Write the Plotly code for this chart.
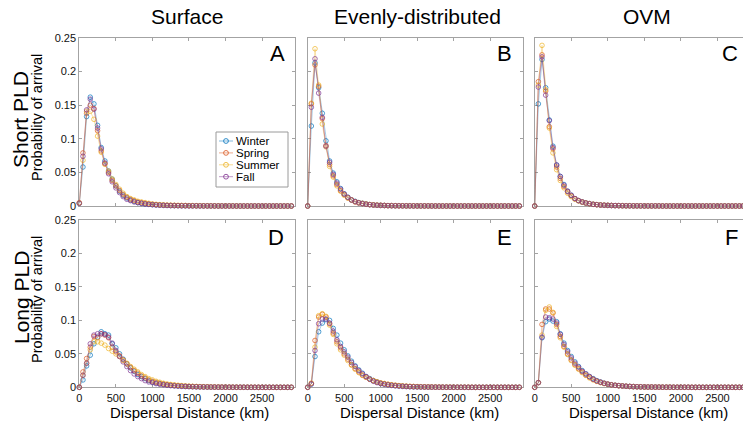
import plotly.graph_objects as go

# ---------------- data ----------------
DIST = list(range(0, 2950, 50))  # dispersal distance bins (km)
SEASONS = ["Winter", "Spring", "Summer", "Fall"]
COL_TITLES = ["Surface", "Evenly-distributed", "OVM"]
ROW_TITLES = ["Short PLD", "Long PLD"]
PANEL_LETTERS = ["A", "B", "C", "D", "E", "F"]
X_TICKS = [0, 500, 1000, 1500, 2000, 2500]
Y_TICKS = [0, 0.05, 0.1, 0.15, 0.2, 0.25]
Y_TICKTEXT = ["0", "0.05", "0.1", "0.15", "0.2", "0.25"]

# A: Surface, short PLD
A_WINTER = [0.004, 0.058, 0.133, 0.162, 0.152, 0.120, 0.087, 0.067, 0.052, 0.040,
            0.030, 0.022, 0.016, 0.012, 0.009, 0.007, 0.005, 0.004, 0.003, 0.0025,
            0.002, 0.0016, 0.0013, 0.001, 0.0008, 0.0007, 0.0006, 0.0005, 0.0004, 0.0004,
            0.0003, 0.0003, 0.0003, 0.0002, 0.0002, 0.0002, 0.0001, 0.0001, 0.0001, 0.0001,
            0.0001, 0.0001, 0.0001, 0, 0, 0, 0, 0, 0, 0,
            0, 0, 0, 0, 0, 0, 0, 0, 0]
A_SPRING = [0.005, 0.079, 0.138, 0.150, 0.145, 0.112, 0.082, 0.063, 0.050, 0.038,
            0.030, 0.023, 0.017, 0.013, 0.010, 0.008, 0.006, 0.005, 0.004, 0.003,
            0.0025, 0.002, 0.0016, 0.0013, 0.001, 0.0009, 0.0008, 0.0007, 0.0006, 0.0005,
            0.0004, 0.0004, 0.0003, 0.0003, 0.0002, 0.0002, 0.0002, 0.0001, 0.0001, 0.0001,
            0.0001, 0.0001, 0.0001, 0, 0, 0, 0, 0, 0, 0,
            0, 0, 0, 0, 0, 0, 0, 0, 0]
A_SUMMER = [0.004, 0.068, 0.141, 0.141, 0.129, 0.104, 0.080, 0.062, 0.052, 0.040,
            0.032, 0.025, 0.019, 0.014, 0.011, 0.009, 0.007, 0.006, 0.005, 0.004,
            0.003, 0.0025, 0.002, 0.0017, 0.0014, 0.0012, 0.001, 0.0009, 0.0008, 0.0007,
            0.0006, 0.0005, 0.0004, 0.0004, 0.0003, 0.0003, 0.0002, 0.0002, 0.0002, 0.0001,
            0.0001, 0.0001, 0.0001, 0.0001, 0, 0, 0, 0, 0, 0,
            0, 0, 0, 0, 0, 0, 0, 0, 0]
A_FALL = [0.004, 0.074, 0.143, 0.159, 0.144, 0.116, 0.085, 0.064, 0.048, 0.036,
          0.027, 0.020, 0.014, 0.010, 0.008, 0.006, 0.005, 0.004, 0.003, 0.0025,
          0.002, 0.0015, 0.0012, 0.001, 0.0008, 0.0006, 0.0005, 0.0004, 0.0003, 0.0003,
          0.0002, 0.0002, 0.0002, 0.0001, 0.0001, 0.0001, 0.0001, 0.0001, 0, 0,
          0, 0, 0, 0, 0, 0, 0, 0, 0, 0,
          0, 0, 0, 0, 0, 0, 0, 0, 0]

# B: Evenly-distributed, short PLD
B_WINTER = [0, 0.119, 0.213, 0.176, 0.138, 0.097, 0.067, 0.049, 0.036, 0.026,
            0.018, 0.013, 0.009, 0.007, 0.005, 0.004, 0.003, 0.002, 0.0015, 0.0012,
            0.001, 0.0008, 0.0006, 0.0005, 0.0004, 0.0003, 0.0003, 0.0002, 0.0002, 0.0002,
            0.0001, 0.0001, 0.0001, 0.0001, 0.0001, 0, 0, 0, 0, 0,
            0, 0, 0, 0, 0, 0, 0, 0, 0, 0,
            0, 0, 0, 0, 0, 0, 0, 0, 0]
B_SPRING = [0, 0.152, 0.210, 0.178, 0.130, 0.090, 0.062, 0.045, 0.032, 0.023,
            0.017, 0.012, 0.009, 0.006, 0.0045, 0.0035, 0.0027, 0.002, 0.0015, 0.0012,
            0.001, 0.0008, 0.0006, 0.0005, 0.0004, 0.0003, 0.0003, 0.0002, 0.0002, 0.0002,
            0.0001, 0.0001, 0.0001, 0.0001, 0.0001, 0, 0, 0, 0, 0,
            0, 0, 0, 0, 0, 0, 0, 0, 0, 0,
            0, 0, 0, 0, 0, 0, 0, 0, 0]
B_SUMMER = [0, 0.153, 0.234, 0.180, 0.122, 0.088, 0.059, 0.043, 0.030, 0.022,
            0.016, 0.012, 0.009, 0.0065, 0.005, 0.004, 0.003, 0.0022, 0.0017, 0.0013,
            0.001, 0.0008, 0.0006, 0.0005, 0.0004, 0.0003, 0.0003, 0.0002, 0.0002, 0.0002,
            0.0001, 0.0001, 0.0001, 0.0001, 0.0001, 0, 0, 0, 0, 0,
            0, 0, 0, 0, 0, 0, 0, 0, 0, 0,
            0, 0, 0, 0, 0, 0, 0, 0, 0]
B_FALL = [0, 0.147, 0.219, 0.168, 0.132, 0.089, 0.065, 0.047, 0.034, 0.025,
          0.018, 0.013, 0.009, 0.0065, 0.0048, 0.0036, 0.0027, 0.002, 0.0015, 0.0011,
          0.0009, 0.0007, 0.0005, 0.0004, 0.0003, 0.0003, 0.0002, 0.0002, 0.0002, 0.0001,
          0.0001, 0.0001, 0.0001, 0.0001, 0, 0, 0, 0, 0, 0,
          0, 0, 0, 0, 0, 0, 0, 0, 0, 0,
          0, 0, 0, 0, 0, 0, 0, 0, 0]

# C: OVM, short PLD
C_WINTER = [0, 0.152, 0.218, 0.176, 0.128, 0.089, 0.061, 0.044, 0.032, 0.022,
            0.016, 0.011, 0.008, 0.006, 0.0045, 0.0035, 0.0025, 0.002, 0.0015, 0.0012,
            0.001, 0.0008, 0.0006, 0.0005, 0.0004, 0.0003, 0.0003, 0.0002, 0.0002, 0.0002,
            0.0001, 0.0001, 0.0001, 0.0001, 0.0001, 0, 0, 0, 0, 0,
            0, 0, 0, 0, 0, 0, 0, 0, 0, 0,
            0, 0, 0, 0, 0, 0, 0, 0, 0]
C_SPRING = [0, 0.185, 0.225, 0.171, 0.118, 0.085, 0.058, 0.041, 0.029, 0.021,
            0.015, 0.011, 0.008, 0.006, 0.0045, 0.0034, 0.0025, 0.002, 0.0015, 0.0012,
            0.001, 0.0008, 0.0006, 0.0005, 0.0004, 0.0003, 0.0003, 0.0002, 0.0002, 0.0002,
            0.0001, 0.0001, 0.0001, 0.0001, 0.0001, 0, 0, 0, 0, 0,
            0, 0, 0, 0, 0, 0, 0, 0, 0, 0,
            0, 0, 0, 0, 0, 0, 0, 0, 0]
C_SUMMER = [0, 0.180, 0.239, 0.173, 0.116, 0.079, 0.054, 0.038, 0.027, 0.019,
            0.014, 0.010, 0.0075, 0.0057, 0.0044, 0.0034, 0.0026, 0.002, 0.0015, 0.0012,
            0.001, 0.0008, 0.0006, 0.0005, 0.0004, 0.0003, 0.0003, 0.0002, 0.0002, 0.0002,
            0.0001, 0.0001, 0.0001, 0.0001, 0.0001, 0, 0, 0, 0, 0,
            0, 0, 0, 0, 0, 0, 0, 0, 0, 0,
            0, 0, 0, 0, 0, 0, 0, 0, 0]
C_FALL = [0, 0.177, 0.222, 0.165, 0.127, 0.087, 0.061, 0.044, 0.031, 0.022,
          0.016, 0.011, 0.008, 0.006, 0.0045, 0.0034, 0.0025, 0.0019, 0.0014, 0.0011,
          0.0009, 0.0007, 0.0006, 0.0005, 0.0004, 0.0003, 0.0003, 0.0002, 0.0002, 0.0002,
          0.0001, 0.0001, 0.0001, 0.0001, 0.0001, 0, 0, 0, 0, 0,
          0, 0, 0, 0, 0, 0, 0, 0, 0, 0,
          0, 0, 0, 0, 0, 0, 0, 0, 0]

# D: Surface, long PLD
D_WINTER = [0, 0.011, 0.032, 0.048, 0.065, 0.075, 0.083, 0.080, 0.078, 0.065,
            0.059, 0.050, 0.042, 0.035, 0.029, 0.024, 0.019, 0.016, 0.013, 0.010,
            0.008, 0.0065, 0.0055, 0.0045, 0.0037, 0.003, 0.0025, 0.002, 0.0017, 0.0014,
            0.0012, 0.001, 0.0008, 0.0007, 0.0006, 0.0005, 0.0004, 0.0003, 0.0003, 0.0002,
            0.0002, 0.0002, 0.0001, 0.0001, 0.0001, 0.0001, 0.0001, 0, 0, 0,
            0, 0, 0, 0, 0, 0, 0, 0, 0]
D_SPRING = [0, 0.023, 0.043, 0.060, 0.076, 0.074, 0.080, 0.078, 0.074, 0.060,
            0.053, 0.047, 0.041, 0.035, 0.030, 0.025, 0.021, 0.017, 0.014, 0.011,
            0.009, 0.0075, 0.006, 0.005, 0.004, 0.0035, 0.003, 0.0025, 0.002, 0.0017,
            0.0014, 0.0012, 0.001, 0.0008, 0.0007, 0.0006, 0.0005, 0.0004, 0.0003, 0.0003,
            0.0002, 0.0002, 0.0002, 0.0001, 0.0001, 0.0001, 0.0001, 0.0001, 0, 0,
            0, 0, 0, 0, 0, 0, 0, 0, 0]
D_SUMMER = [0, 0.018, 0.036, 0.056, 0.068, 0.068, 0.066, 0.063, 0.058, 0.054,
            0.050, 0.046, 0.040, 0.036, 0.031, 0.027, 0.023, 0.019, 0.016, 0.013,
            0.011, 0.009, 0.0075, 0.006, 0.005, 0.0042, 0.0035, 0.003, 0.0025, 0.002,
            0.0017, 0.0014, 0.0012, 0.001, 0.0008, 0.0007, 0.0006, 0.0005, 0.0004, 0.0003,
            0.0003, 0.0002, 0.0002, 0.0002, 0.0001, 0.0001, 0.0001, 0.0001, 0.0001, 0,
            0, 0, 0, 0, 0, 0, 0, 0, 0]
D_FALL = [0, 0.018, 0.036, 0.065, 0.078, 0.080, 0.080, 0.079, 0.075, 0.066,
          0.055, 0.046, 0.038, 0.031, 0.025, 0.020, 0.016, 0.013, 0.010, 0.008,
          0.007, 0.0055, 0.0045, 0.0038, 0.003, 0.0025, 0.002, 0.0017, 0.0014, 0.0012,
          0.001, 0.0008, 0.0007, 0.0006, 0.0005, 0.0004, 0.0003, 0.0003, 0.0002, 0.0002,
          0.0002, 0.0001, 0.0001, 0.0001, 0.0001, 0.0001, 0, 0, 0, 0,
          0, 0, 0, 0, 0, 0, 0, 0, 0]

# E: Evenly-distributed, long PLD
E_WINTER = [0, 0.005, 0.046, 0.083, 0.096, 0.101, 0.100, 0.088, 0.078, 0.066,
            0.056, 0.047, 0.039, 0.032, 0.026, 0.021, 0.016, 0.013, 0.010, 0.008,
            0.006, 0.005, 0.004, 0.0032, 0.0025, 0.002, 0.0016, 0.0013, 0.001, 0.0008,
            0.0007, 0.0006, 0.0005, 0.0004, 0.0003, 0.0003, 0.0002, 0.0002, 0.0002, 0.0001,
            0.0001, 0.0001, 0.0001, 0.0001, 0, 0, 0, 0, 0, 0,
            0, 0, 0, 0, 0, 0, 0, 0, 0]
E_SPRING = [0, 0.006, 0.070, 0.105, 0.109, 0.105, 0.095, 0.081, 0.068, 0.059,
            0.050, 0.042, 0.034, 0.028, 0.023, 0.018, 0.015, 0.012, 0.010, 0.008,
            0.0065, 0.0055, 0.0045, 0.0037, 0.003, 0.0025, 0.002, 0.0016, 0.0013, 0.0011,
            0.0009, 0.0007, 0.0006, 0.0005, 0.0004, 0.0003, 0.0003, 0.0002, 0.0002, 0.0002,
            0.0001, 0.0001, 0.0001, 0.0001, 0.0001, 0, 0, 0, 0, 0,
            0, 0, 0, 0, 0, 0, 0, 0, 0]
E_SUMMER = [0, 0.006, 0.060, 0.107, 0.110, 0.106, 0.093, 0.079, 0.065, 0.056,
            0.048, 0.040, 0.033, 0.027, 0.022, 0.018, 0.015, 0.012, 0.010, 0.008,
            0.0065, 0.0055, 0.0045, 0.0037, 0.003, 0.0025, 0.002, 0.0017, 0.0014, 0.0012,
            0.001, 0.0008, 0.0007, 0.0006, 0.0005, 0.0004, 0.0003, 0.0003, 0.0002, 0.0002,
            0.0002, 0.0001, 0.0001, 0.0001, 0.0001, 0.0001, 0, 0, 0, 0,
            0, 0, 0, 0, 0, 0, 0, 0, 0]
E_FALL = [0, 0.005, 0.055, 0.095, 0.102, 0.102, 0.096, 0.084, 0.071, 0.061,
          0.053, 0.045, 0.037, 0.031, 0.025, 0.020, 0.016, 0.012, 0.009, 0.007,
          0.0055, 0.0045, 0.0035, 0.0028, 0.0022, 0.0018, 0.0014, 0.0011, 0.0009, 0.0007,
          0.0006, 0.0005, 0.0004, 0.0003, 0.0003, 0.0002, 0.0002, 0.0002, 0.0001, 0.0001,
          0.0001, 0.0001, 0, 0, 0, 0, 0, 0, 0, 0,
          0, 0, 0, 0, 0, 0, 0, 0, 0]

# F: OVM, long PLD
F_WINTER = [0, 0.007, 0.074, 0.098, 0.102, 0.099, 0.098, 0.080, 0.066, 0.055,
            0.046, 0.038, 0.031, 0.025, 0.020, 0.016, 0.013, 0.010, 0.008, 0.006,
            0.0048, 0.0038, 0.003, 0.0024, 0.002, 0.0016, 0.0013, 0.001, 0.0008, 0.0007,
            0.0005, 0.0004, 0.0004, 0.0003, 0.0003, 0.0002, 0.0002, 0.0002, 0.0001, 0.0001,
            0.0001, 0.0001, 0.0001, 0, 0, 0, 0, 0, 0, 0,
            0, 0, 0, 0, 0, 0, 0, 0, 0]
F_SPRING = [0, 0.007, 0.094, 0.117, 0.117, 0.111, 0.094, 0.076, 0.061, 0.050,
            0.041, 0.034, 0.028, 0.023, 0.018, 0.015, 0.012, 0.009, 0.0075, 0.006,
            0.0048, 0.0038, 0.003, 0.0024, 0.002, 0.0016, 0.0013, 0.001, 0.0008, 0.0007,
            0.0005, 0.0004, 0.0004, 0.0003, 0.0003, 0.0002, 0.0002, 0.0002, 0.0001, 0.0001,
            0.0001, 0.0001, 0.0001, 0, 0, 0, 0, 0, 0, 0,
            0, 0, 0, 0, 0, 0, 0, 0, 0]
F_SUMMER = [0, 0.007, 0.078, 0.115, 0.120, 0.112, 0.091, 0.074, 0.060, 0.049,
            0.040, 0.033, 0.027, 0.022, 0.018, 0.014, 0.011, 0.009, 0.007, 0.0055,
            0.0045, 0.0036, 0.003, 0.0024, 0.002, 0.0016, 0.0013, 0.001, 0.0008, 0.0007,
            0.0005, 0.0004, 0.0004, 0.0003, 0.0003, 0.0002, 0.0002, 0.0002, 0.0001, 0.0001,
            0.0001, 0.0001, 0.0001, 0, 0, 0, 0, 0, 0, 0,
            0, 0, 0, 0, 0, 0, 0, 0, 0]
F_FALL = [0, 0.007, 0.075, 0.105, 0.104, 0.102, 0.096, 0.079, 0.064, 0.053,
          0.044, 0.036, 0.030, 0.024, 0.020, 0.016, 0.012, 0.0095, 0.0075, 0.006,
          0.0046, 0.0036, 0.003, 0.0024, 0.002, 0.0016, 0.0013, 0.001, 0.0008, 0.0007,
          0.0005, 0.0004, 0.0004, 0.0003, 0.0003, 0.0002, 0.0002, 0.0002, 0.0001, 0.0001,
          0.0001, 0.0001, 0.0001, 0, 0, 0, 0, 0, 0, 0,
          0, 0, 0, 0, 0, 0, 0, 0, 0]

PANELS = [
    [A_WINTER, A_SPRING, A_SUMMER, A_FALL],
    [B_WINTER, B_SPRING, B_SUMMER, B_FALL],
    [C_WINTER, C_SPRING, C_SUMMER, C_FALL],
    [D_WINTER, D_SPRING, D_SUMMER, D_FALL],
    [E_WINTER, E_SPRING, E_SUMMER, E_FALL],
    [F_WINTER, F_SPRING, F_SUMMER, F_FALL],
]

# ---------------- styling ----------------
W, H = 743, 423
FONT = "Liberation Sans, Arial, Helvetica, sans-serif"
AXIS_GRAY = "#a3a3a3"
RGB = {"Winter": (0, 114, 189), "Spring": (217, 83, 25),
       "Summer": (237, 177, 32), "Fall": (126, 47, 142)}


def rgba(season, a):
    r, g, b = RGB[season]
    return f"rgba({r},{g},{b},{a})"


def px_x(x):
    return x / W


def px_y(y):
    return 1 - y / H


# panel geometry in pixels (left, right), (top, bottom)
COLS_PX = [(79.3, 295.0), (307.7, 523.0), (534.7, 743.0)]
ROWS_PX = [(38.0, 206.0), (220.0, 387.3)]
X_MAX = [2950, 2950, 2850]

fig = go.Figure()

for p, series in enumerate(PANELS):
    n = p + 1
    for s, season in enumerate(SEASONS):
        y = series[s]
        fig.add_trace(go.Scatter(
            x=DIST[:len(y)], y=y, mode="lines+markers",
            xaxis=f"x{n}", yaxis=f"y{n}", showlegend=False, name=season,
            cliponaxis=False,
            line=dict(color=rgba(season, 0.45), width=0.8),
            marker=dict(symbol="circle-open", size=4.6,
                        color=rgba(season, 0.68), line=dict(width=1, color=rgba(season, 0.68))),
        ))

layout = dict(
    width=W, height=H, margin=dict(l=0, r=0, t=0, b=0, pad=0, autoexpand=False),
    paper_bgcolor="white", plot_bgcolor="white",
    font=dict(family=FONT, color="#111111"),
    showlegend=False,
)

for p in range(6):
    n = p + 1
    row, col = divmod(p, 3)
    x0, x1 = COLS_PX[col]
    yt, yb = ROWS_PX[row]
    sfx = "" if n == 1 else str(n)
    layout[f"xaxis{sfx}"] = dict(
        domain=[px_x(x0), px_x(x1)], range=[0, X_MAX[col]], anchor=f"y{n}",
        showline=True, linecolor=AXIS_GRAY, linewidth=1, mirror="ticks",
        ticks="inside", ticklen=3, tickcolor=AXIS_GRAY, tickwidth=1,
        tickvals=X_TICKS, showticklabels=(row == 1),
        tickfont=dict(size=11, color="#111111", family=FONT),
        showgrid=False, zeroline=False, layer="below traces", automargin=False,
    )
    layout[f"yaxis{sfx}"] = dict(
        domain=[px_y(yb), px_y(yt)], range=[0, 0.25], anchor=f"x{n}",
        showline=True, linecolor=AXIS_GRAY, linewidth=1,
        mirror=("ticks" if col < 2 else False),
        ticks="inside", ticklen=3, tickcolor=AXIS_GRAY, tickwidth=1,
        tickvals=Y_TICKS, ticktext=Y_TICKTEXT, showticklabels=(col == 0),
        tickfont=dict(size=11, color="#111111", family=FONT),
        showgrid=False, zeroline=False, layer="below traces", automargin=False,
    )

annotations = []
# column titles
for txt, cx in zip(COL_TITLES, [187, 417, 647]):
    annotations.append(dict(text=txt, x=px_x(cx), y=px_y(17), xref="paper", yref="paper",
                            showarrow=False, xanchor="center", yanchor="middle",
                            font=dict(size=21, family=FONT, color="#000000")))
# row titles and y-axis titles
for txt, cy, cy2 in zip(ROW_TITLES, [120, 298], [118, 300]):
    annotations.append(dict(text=txt, x=px_x(21), y=px_y(cy), xref="paper", yref="paper",
                            showarrow=False, textangle=-90, xanchor="center", yanchor="middle",
                            font=dict(size=21, family=FONT, color="#000000")))
    annotations.append(dict(text="Probability of arrival", x=px_x(37), y=px_y(cy2),
                            xref="paper", yref="paper", showarrow=False, textangle=-90,
                            xanchor="center", yanchor="middle",
                            font=dict(size=14.5, family=FONT, color="#000000")))
# x-axis titles
for cx in [189, 419, 648]:
    annotations.append(dict(text="Dispersal Distance (km)", x=px_x(cx), y=px_y(412),
                            xref="paper", yref="paper", showarrow=False,
                            xanchor="center", yanchor="middle",
                            font=dict(size=15, family=FONT, color="#000000")))
# panel letters
LETTER_POS = [(287, 54), (514, 54), (740, 54), (286, 237), (514, 237), (740, 237)]
for letter, (lx, ly) in zip(PANEL_LETTERS, LETTER_POS):
    annotations.append(dict(text=letter, x=px_x(lx), y=px_y(ly), xref="paper", yref="paper",
                            showarrow=False, xanchor="right", yanchor="middle",
                            font=dict(size=22, family=FONT, color="#000000")))

# legend (in panel A), drawn as box + samples + labels
shapes = [dict(type="rect", xref="paper", yref="paper",
               x0=px_x(216), x1=px_x(288), y0=px_y(187), y1=px_y(132),
               line=dict(color="#9a9a9a", width=1), fillcolor="white", layer="above")]
for i, season in enumerate(SEASONS):
    ly = 141 + i * 11.9
    shapes.append(dict(type="line", xref="paper", yref="paper",
                       x0=px_x(219), x1=px_x(233), y0=px_y(ly), y1=px_y(ly),
                       line=dict(color=rgba(season, 0.55), width=0.9), layer="above"))
    shapes.append(dict(type="circle", xref="paper", yref="paper",
                       xsizemode="pixel", ysizemode="pixel",
                       xanchor=px_x(226), yanchor=px_y(ly),
                       x0=-2.4, x1=2.4, y0=-2.4, y1=2.4,
                       line=dict(color=rgba(season, 0.8), width=1),
                       fillcolor="rgba(0,0,0,0)", layer="above"))
    annotations.append(dict(text=season, x=px_x(235), y=px_y(ly), xref="paper", yref="paper",
                            showarrow=False, xanchor="left", yanchor="middle",
                            borderpad=0,
                            font=dict(size=11.5, family=FONT, color="#000000")))

layout["annotations"] = annotations
layout["shapes"] = shapes
fig.update_layout(**layout)

fig.write_html("out.html", config={"displayModeBar": False},
               post_script="document.body.style.margin='0';document.body.style.overflow='hidden';")
